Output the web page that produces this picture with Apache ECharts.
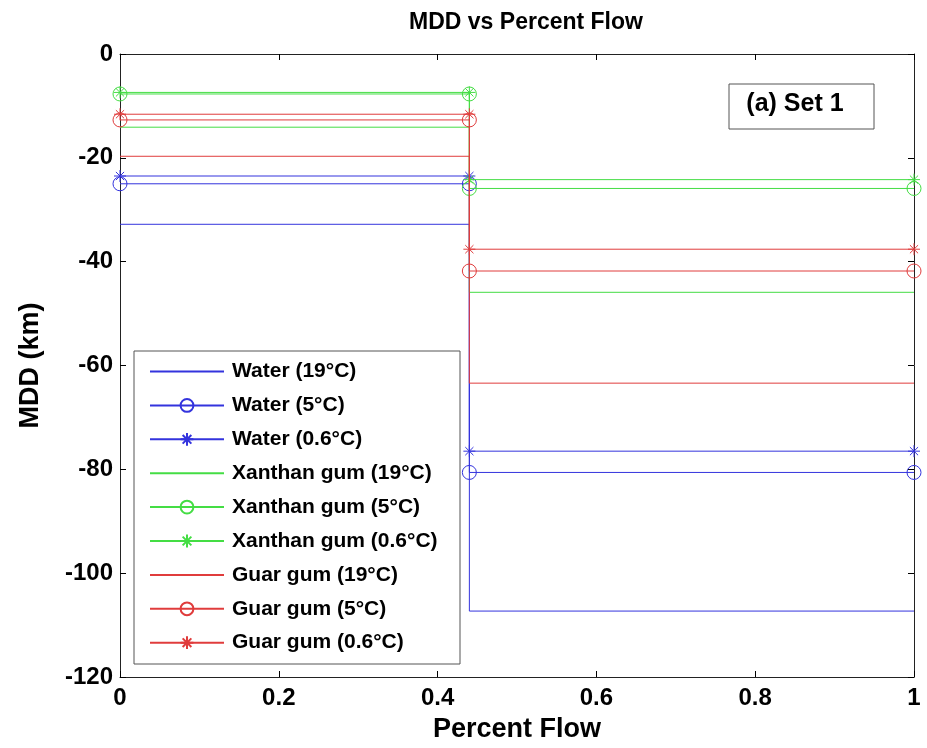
<!DOCTYPE html>
<html>
<head>
<meta charset="utf-8">
<script src="https://cdn.jsdelivr.net/npm/echarts@6/dist/echarts.min.js"></script>
<style>html,body{margin:0;padding:0;background:#fff;}#c{width:927px;height:748px;}</style>
</head>
<body>
<div id="c"></div>
<script>
// ---- data ----
const percentFlow = [0, 0.44, 0.44, 1];
const seriesNames = [
  'Water (19°C)', 'Water (5°C)', 'Water (0.6°C)',
  'Xanthan gum (19°C)', 'Xanthan gum (5°C)', 'Xanthan gum (0.6°C)',
  'Guar gum (19°C)', 'Guar gum (5°C)', 'Guar gum (0.6°C)'
];
const water19 = [-32.8, -32.8, -107.3, -107.3];
const water5 = [-25.0, -25.0, -80.6, -80.6];
const water06 = [-23.5, -23.5, -76.5, -76.5];
const xanthan19 = [-14.1, -14.1, -45.9, -45.9];
const xanthan5 = [-7.7, -7.7, -25.9, -25.9];
const xanthan06 = [-7.4, -7.4, -24.2, -24.2];
const guar19 = [-19.7, -19.7, -63.4, -63.4];
const guar5 = [-12.7, -12.7, -41.8, -41.8];
const guar06 = [-11.6, -11.6, -37.6, -37.6];
const yTicks = [-120, -100, -80, -60, -40, -20, 0];
const xTicks = [0, 0.2, 0.4, 0.6, 0.8, 1];

// ---- styling ----
const BLUE = '#3333dd', GREEN = '#44dd44', RED = '#e03c3c';
const FONT = '"Liberation Sans", Arial, Helvetica, sans-serif';
const ASTERISK = 'path://M5,0L5,10M0,5L10,5M1.6,1.6L8.4,8.4M1.6,8.4L8.4,1.6';

const allValues = [water19, water5, water06, xanthan19, xanthan5, xanthan06, guar19, guar5, guar06];
const colors = [BLUE, BLUE, BLUE, GREEN, GREEN, GREEN, RED, RED, RED];
const markers = ['none', 'circle', ASTERISK, 'none', 'circle', ASTERISK, 'none', 'circle', ASTERISK];

const series = allValues.map((vals, i) => ({
  name: seriesNames[i],
  type: 'line',
  data: vals.map((v, k) => [percentFlow[k], v]),
  symbol: markers[i] === 'none' ? 'circle' : markers[i],
  symbolSize: markers[i] === 'circle' ? 14 : (markers[i] === 'none' ? 0 : 12),
  showSymbol: markers[i] !== 'none',
  lineStyle: { color: colors[i], width: 1 },
  itemStyle: { color: 'rgba(0,0,0,0)', borderColor: colors[i], borderWidth: 1 },
  emphasis: { disabled: true },
  silent: true,
  z: 3 + i * 0.01,
  xAxisIndex: 0, yAxisIndex: 0
}));

const legendData = seriesNames.map((n, i) => markers[i] === 'none'
  ? { name: n, itemStyle: { opacity: 0, borderWidth: 0, color: 'rgba(0,0,0,0)', borderColor: 'rgba(0,0,0,0)' } }
  : { name: n });

const chart = echarts.init(document.getElementById('c'), null, { renderer: 'canvas' });
const tickCommon = { show: true, inside: true, length: 6, lineStyle: { color: '#000', width: 1 } };
chart.setOption({
  animation: false,
  backgroundColor: '#fff',
  title: {
    text: 'MDD vs Percent Flow',
    left: 521, textAlign: 'center', top: 6,
    textStyle: { fontFamily: FONT, fontWeight: 'bold', fontSize: 23, color: '#000' }
  },
  grid: { left: 120, right: 13, top: 54, bottom: 68 },
  xAxis: [{
    type: 'value', min: 0, max: 1, interval: 0.2,
    name: 'Percent Flow', nameLocation: 'middle', nameGap: 39,
    nameTextStyle: { fontFamily: FONT, fontWeight: 'bold', fontSize: 27, color: '#000' },
    axisLine: { show: true, onZero: false, lineStyle: { color: '#222', width: 1 } },
    axisTick: tickCommon,
    splitLine: { show: false },
    axisLabel: { margin: 9, fontFamily: FONT, fontWeight: 'bold', fontSize: 24, color: '#000',
      formatter: v => (xTicks.includes(+v.toFixed(1)) ? String(+v.toFixed(1)) : '') }
  }, {
    type: 'value', min: 0, max: 1, interval: 0.2, position: 'top',
    axisLine: { show: true, onZero: false, lineStyle: { color: '#222', width: 1 } },
    axisTick: tickCommon, axisLabel: { show: false }, splitLine: { show: false }
  }],
  yAxis: [{
    type: 'value', min: -120, max: 0, interval: 20,
    name: 'MDD (km)', nameLocation: 'middle', nameGap: 76, nameRotate: 90,
    nameTextStyle: { fontFamily: FONT, fontWeight: 'bold', fontSize: 27, color: '#000' },
    axisLine: { show: true, onZero: false, lineStyle: { color: '#222', width: 1 } },
    axisTick: tickCommon,
    splitLine: { show: false },
    axisLabel: { margin: 7, fontFamily: FONT, fontWeight: 'bold', fontSize: 24, color: '#000',
      formatter: v => (yTicks.includes(v) ? String(v) : '') }
  }, {
    type: 'value', min: -120, max: 0, interval: 20, position: 'right',
    axisLine: { show: true, onZero: false, lineStyle: { color: '#222', width: 1 } },
    axisTick: tickCommon, axisLabel: { show: false }, splitLine: { show: false }
  }],
  legend: {
    orient: 'vertical',
    left: 149, top: 361,
    padding: 0,
    itemWidth: 74, itemHeight: 16, itemGap: 12.9,
    data: legendData,
    selectedMode: false,
    textStyle: { fontFamily: FONT, fontWeight: 'bold', fontSize: 21, lineHeight: 21, color: '#000', padding: [0, 0, 0, 3] },
    z: 10
  },
  graphic: [
    { type: 'rect', z: 5, shape: { x: 134, y: 351, width: 326, height: 313 },
      style: { fill: '#fff', stroke: '#555', lineWidth: 1 }, silent: true },
    { type: 'rect', z: 5, shape: { x: 729, y: 84, width: 145, height: 45 },
      style: { fill: '#fff', stroke: '#555', lineWidth: 1 }, silent: true },
    { type: 'text', z: 6, x: 795, y: 104, silent: true,
      style: { text: '(a) Set 1', fontFamily: FONT, fontWeight: 'bold', fontSize: 25, fill: '#000',
        align: 'center', verticalAlign: 'middle' } }
  ],
  series: series
});
</script>
</body>
</html>
